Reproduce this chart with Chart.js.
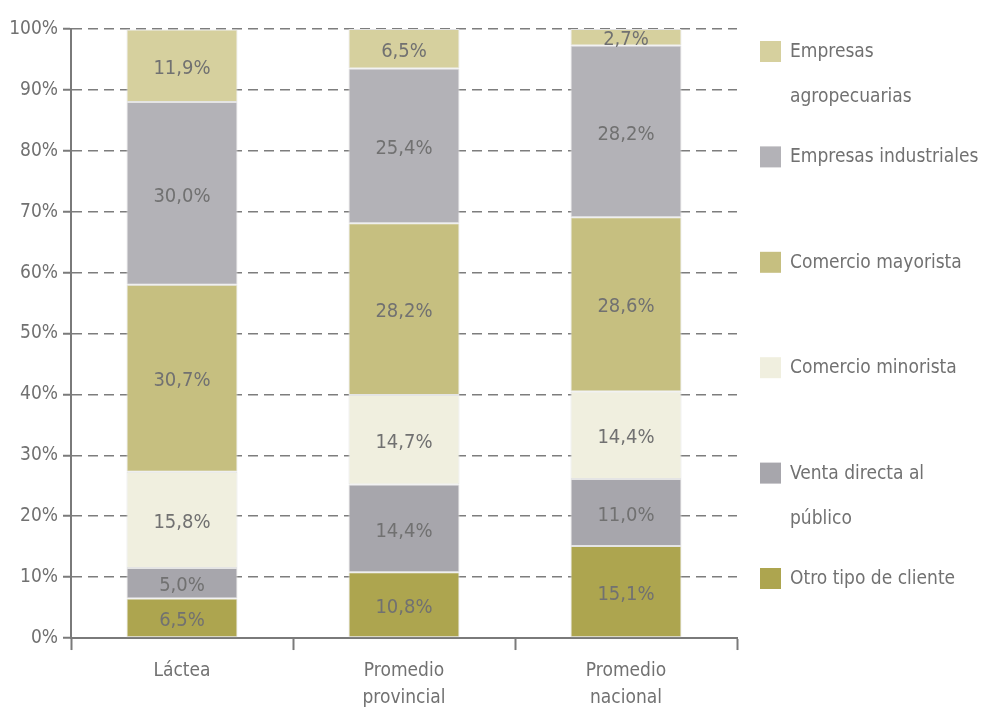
<!DOCTYPE html>
<html>
<head>
<meta charset="utf-8">
<script src="https://cdn.jsdelivr.net/npm/chart.js@4.4.1/dist/chart.umd.min.js"></script>
<style>
    html, body { margin: 0; padding: 0; background: #fff; }
    #wrap { width: 983px; height: 710px; position: relative; }
</style>
</head>
<body>
<div id="wrap"><canvas id="clientes-bar"></canvas></div>
<script>
// Destino de las ventas por tipo de cliente (%)
let categories = ['Láctea', ['Promedio', 'provincial'], ['Promedio', 'nacional']];

let otroTipo = [6.5, 10.8, 15.1];
let ventaDirecta = [5.0, 14.4, 11.0];
let comercioMinorista = [15.8, 14.7, 14.4];
let comercioMayorista = [30.7, 28.2, 28.6];
let empresasIndustriales = [30.0, 25.4, 28.2];
let empresasAgro = [11.9, 6.5, 2.7];

let yTicks = [0, 10, 20, 30, 40, 50, 60, 70, 80, 90, 100];

let seriesNames = ['Otro tipo de cliente', 'Venta directa al\npúblico', 'Comercio minorista',
    'Comercio mayorista', 'Empresas industriales', 'Empresas\nagropecuarias'];
let colorHex = ['#ada54f', '#a7a6ac', '#f0efdf', '#c6bf80', '#b3b2b7', '#d6d09e'];

let fontName = "'Liberation Sans Narrow', 'DejaVu Sans Condensed', 'Roboto', sans-serif";
let textColor = '#717171';

let seriesData = [otroTipo, ventaDirecta, comercioMinorista, comercioMayorista, empresasIndustriales, empresasAgro];

// etiquetas dentro de cada segmento
const segmentLabels = {
    id: 'segmentLabels',
    afterDatasetsDraw(chart) {
        const c = chart.ctx;
        c.save();
        c.font = '20px ' + fontName;
        c.fillStyle = textColor;
        c.textAlign = 'center';
        c.textBaseline = 'middle';
        chart.data.datasets.forEach((ds, i) => {
            chart.getDatasetMeta(i).data.forEach((bar, j) => {
                let mid = (bar.y + bar.base) / 2 + 3;
                c.fillText(ds.data[j].toFixed(1).replace('.', ',') + '%', bar.x, mid);
            });
        });
        c.restore();
    }
};

// leyenda a la derecha, en orden inverso
const sideLegend = {
    id: 'sideLegend',
    afterDraw(chart) {
        const c = chart.ctx;
        const area = chart.chartArea;
        c.save();
        c.font = '19px ' + fontName;
        c.textBaseline = 'middle';
        let n = chart.data.datasets.length;
        let step = (579 - 52) / (n - 1);
        for (let k = 0; k < n; k++) {
            let ds = chart.data.datasets[n - 1 - k];
            let y = 52 + k * step;
            c.fillStyle = ds.backgroundColor;
            c.fillRect(area.right + 23, y - 11, 21, 21);
            c.fillStyle = textColor;
            ds.label.split('\n').forEach((line, li) => {
                c.fillText(line, area.right + 53, y + li * 45);
            });
        }
        c.restore();
    }
};

let ctx = document.getElementById('clientes-bar').getContext('2d');

let myChart = new Chart(ctx, {
    type: 'bar',
    data: {
        labels: categories,
        datasets: seriesData.map((d, i) => ({
            label: seriesNames[i],
            data: d,
            backgroundColor: colorHex[i],
            borderColor: '#e4e4e4',
            borderWidth: 1,
            borderSkipped: false,
            categoryPercentage: 1.0,
            barPercentage: 0.5
        }))
    },
    options: {
        responsive: true,
        maintainAspectRatio: false,
        animation: false,
        layout: {
            padding: { top: 29, right: 246, left: 0, bottom: 0 }
        },
        plugins: {
            legend: { display: false },
            tooltip: { enabled: false }
        },
        scales: {
            x: {
                stacked: true,
                offset: true,
                afterFit: (axis) => { axis.height -= 10; },
                grid: {
                    offset: true,
                    drawOnChartArea: false,
                    drawTicks: true,
                    tickLength: 12,
                    tickColor: '#7a7a7a',
                    tickWidth: 2
                },
                border: { display: true, color: '#7a7a7a', width: 2 },
                ticks: {
                    color: textColor,
                    padding: 8,
                    font: { family: fontName, size: 19, lineHeight: 1.42 }
                }
            },
            y: {
                stacked: true,
                min: 0,
                max: 100,
                afterFit: (axis) => { axis.width = 71; },
                afterBuildTicks: (axis) => {
                    axis.ticks = yTicks.map(v => ({ value: v }));
                },
                grid: {
                    color: '#7d7d7d',
                    lineWidth: 1.5,
                    drawTicks: true,
                    tickLength: 8,
                    tickColor: '#7a7a7a',
                    tickWidth: 2,
                    tickBorderDash: []
                },
                border: { display: true, color: '#7a7a7a', width: 2, dash: [10, 6] },
                ticks: {
                    color: textColor,
                    padding: 5,
                    font: { family: fontName, size: 19 },
                    callback: (v) => v + '%'
                }
            }
        }
    },
    plugins: [segmentLabels, sideLegend]
});
</script>
</body>
</html>
